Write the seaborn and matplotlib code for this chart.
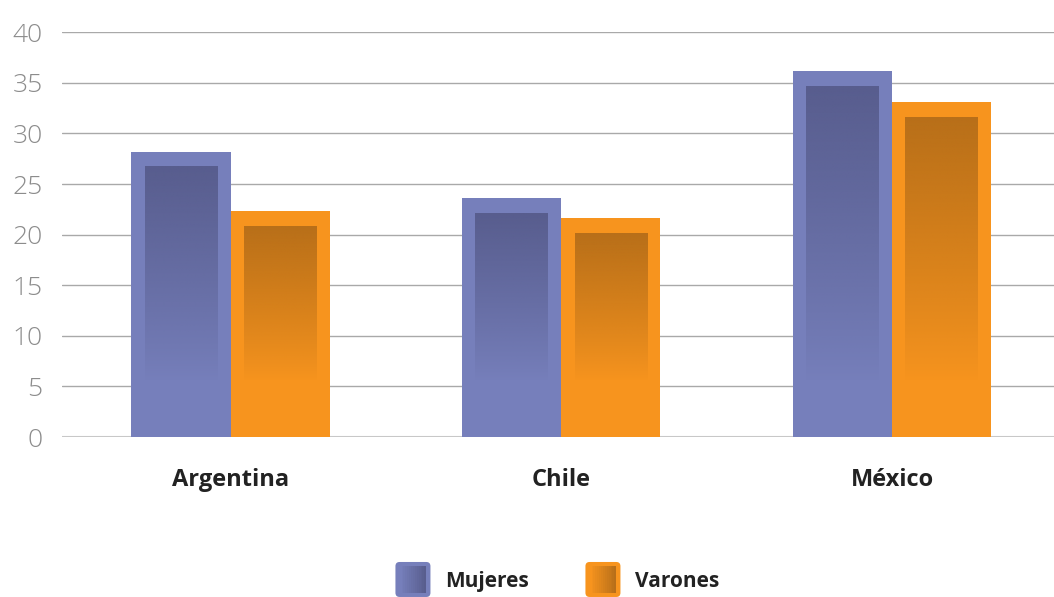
import numpy as np
import pandas as pd
import matplotlib
matplotlib.use("Agg")
import matplotlib.pyplot as plt
import seaborn as sns
from matplotlib.patches import FancyBboxPatch, Rectangle
from matplotlib.legend_handler import HandlerBase
from matplotlib.colors import to_rgb

countries = ["Argentina", "Chile", "México"]
mujeres = [28.2, 23.6, 36.2]
varones = [22.3, 21.6, 33.1]
series = ["Mujeres", "Varones"]
yticks = [0, 5, 10, 15, 20, 25, 30, 35, 40]

outer_colors = {"Mujeres": "#767fbb", "Varones": "#f7941e"}
inner_colors = {"Mujeres": "#585d8e", "Varones": "#b86f19"}

df = pd.DataFrame({
    "País": countries * 2,
    "Serie": ["Mujeres"] * 3 + ["Varones"] * 3,
    "Valor": mujeres + varones,
})

sns.set_theme(style="white")
plt.rcParams["font.family"] = ["Open Sans", "DejaVu Sans"]

fig = plt.figure(figsize=(10.54, 5.97), dpi=100)
ax = fig.add_axes([0.0588, 0.268, 0.9412, 0.678])

sns.barplot(data=df, x="País", y="Valor", hue="Serie", hue_order=series,
            palette=outer_colors, width=0.6, gap=0, saturation=1,
            linewidth=0, ax=ax, legend=False, zorder=3)

# inner gradient rectangles
inset_x = 0.04
inset_top = 1.55
fade_bottom = 5.5
for i, cont in enumerate(ax.containers):
    s = series[i]
    rgb = to_rgb(inner_colors[s])
    for bar in cont:
        x0 = bar.get_x() + inset_x
        x1 = bar.get_x() + bar.get_width() - inset_x
        top = bar.get_height() - inset_top
        n = 200
        alpha = np.linspace(0, 1, n).reshape(n, 1)
        img = np.zeros((n, 1, 4))
        img[..., 0] = rgb[0]
        img[..., 1] = rgb[1]
        img[..., 2] = rgb[2]
        img[..., 3] = alpha ** 0.9
        ax.imshow(img, extent=[x0, x1, fade_bottom, top], origin="lower",
                  aspect="auto", zorder=4, interpolation="bilinear")
ax.set_xlim(-0.51, 2.49)
ax.set_ylim(0, 40)

ax.set_yticks(yticks)
ax.set_yticklabels([str(v) for v in yticks], fontsize=19, color="#8c8c8c",
                   fontweight="light")
ax.set_xticks(range(len(countries)))
ax.set_xticklabels(countries, fontsize=17, fontweight="bold", color="#222222")
ax.yaxis.grid(True, color="#a9a9a9", linewidth=1, zorder=0)
ax.xaxis.grid(False)
for sp in ax.spines.values():
    sp.set_visible(False)
ax.axhline(0, color="#c8c8c8", linewidth=1.5, zorder=2)
ax.tick_params(axis="y", length=0, pad=14)
ax.tick_params(axis="x", length=0, pad=22)
ax.set_xlabel("")
ax.set_ylabel("")


class GradHandler(HandlerBase):
    def __init__(self, outer, inner):
        super().__init__()
        self.outer = outer
        self.inner = inner

    def create_artists(self, legend, orig_handle, xdescent, ydescent,
                       width, height, fontsize, trans):
        size = width
        x0 = -xdescent
        y0 = -ydescent + (height - size) / 2
        arts = []
        box = FancyBboxPatch((x0, y0), size, size,
                             boxstyle="round,pad=0,rounding_size=3",
                             facecolor=self.outer, edgecolor="none",
                             transform=trans)
        arts.append(box)
        oc = np.array(to_rgb(self.outer))
        ic = np.array(to_rgb(self.inner))
        m = size * 0.12
        n = 14
        w = (size - 2 * m) / n
        for k in range(n):
            t = k / (n - 1)
            c = oc * (1 - t) + ic * t
            arts.append(Rectangle((x0 + m + k * w, y0 + m), w * 1.05, size - 2 * m,
                                  facecolor=c, edgecolor="none", transform=trans))
        return arts


h1 = Rectangle((0, 0), 1, 1)
h2 = Rectangle((0, 0), 1, 1)
leg = fig.legend([h1, h2], series, loc="center", bbox_to_anchor=(0.529, 0.027),
                 ncol=2, frameon=False,
                 handler_map={h1: GradHandler(outer_colors["Mujeres"], inner_colors["Mujeres"]),
                              h2: GradHandler(outer_colors["Varones"], inner_colors["Varones"])},
                 prop={"weight": "bold", "size": 15},
                 handlelength=1.68, handleheight=1.0, handletextpad=0.72,
                 columnspacing=2.7)
for t in leg.get_texts():
    t.set_color("#222222")

fig.savefig("out.png", dpi=100)
